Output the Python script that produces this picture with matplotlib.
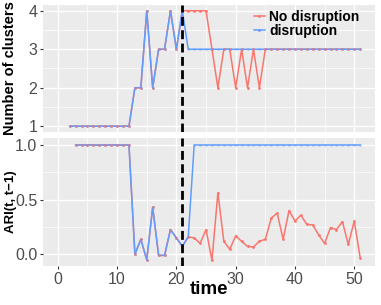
"""
Number of clusters and ARI over time, with and without disruption.
"""

import matplotlib.pyplot as plt

plt.rcParams['font.family'] = ['Liberation Sans', 'DejaVu Sans']

# number of clusters
time_nc = list(range(2, 52))
nc_no_disruption = [1] * 11 + [2, 2, 4, 2, 3, 3, 4, 3, 4,
                               4, 4, 4, 4, 3, 2, 3, 3, 2, 3, 2, 3, 2] + [3] * 17
nc_disruption = [1] * 11 + [2, 2, 4, 2, 3, 3, 4, 3, 4] + [3] * 30

# ARI(t, t-1)
time_ari = list(range(3, 52))
ari_shared = [1.0] * 10 + [0.0, 0.137, -0.05, 0.43, -0.01, -0.01, 0.226, 0.15, 0.073, 0.16]
ari_no_disruption = ari_shared + [0.15, 0.10, 0.226, -0.055, 0.564, 0.119, 0.046, 0.168,
                                  0.119, 0.073, 0.067, 0.119, 0.137, 0.33, 0.378, 0.137,
                                  0.40, 0.305, 0.357, 0.274, 0.268, 0.177, 0.10, 0.244,
                                  0.226, 0.299, 0.09, 0.305, -0.03]
ari_disruption = ari_shared + [1.0] * 29

disruption_time = 21
red = '#F8766D'
blue = '#619CFF'

fig = plt.figure(figsize=(3.81, 3.05), dpi=100)
ax_top = fig.add_axes([43/381, 1 - 132/305, 332/381, 127/305])
ax_bot = fig.add_axes([43/381, 1 - 266/305, 332/381, 128/305])

for ax in (ax_top, ax_bot):
    ax.set_facecolor('#EBEBEB')
    for s in ax.spines.values():
        s.set_visible(False)
    ax.set_xlim(-2.5, 53.5)
    ax.set_xticks([0, 10, 20, 30, 40, 50])
    ax.set_xticks([5, 15, 25, 35, 45], minor=True)
    ax.grid(True, which='major', color='white', lw=1.0)
    ax.grid(True, which='minor', color='white', lw=0.5)
    ax.set_axisbelow(True)
    ax.tick_params(which='major', color='#333333', length=2.5, width=0.8,
                   labelsize=11.5, labelcolor='#4D4D4D', pad=1.5)
    ax.tick_params(which='minor', length=0)
    ax.axvline(disruption_time, color='black', lw=2, ls=(0, (3.2, 1.6)), zorder=5)

ax_top.tick_params(axis='x', which='both', length=0, labelbottom=False)

ax_top.plot(time_nc, nc_no_disruption, color=red, lw=1.1, zorder=2)
ax_top.plot(time_nc, nc_disruption, color=blue, lw=1.1, zorder=3)
ax_top.plot(time_nc, nc_no_disruption, 'o', color=red, ms=2, mew=0, zorder=4)
ax_top.plot(time_nc, nc_disruption, 'o', color=blue, ms=2, mew=0, alpha=0.4, zorder=4)
ax_top.set_ylim(0.85, 4.15)
ax_top.set_yticks([1, 2, 3, 4])
ax_top.set_yticks([1.5, 2.5, 3.5], minor=True)
ax_top.set_ylabel('Number of clusters', fontsize=10.5, fontweight='bold')
ax_top.yaxis.set_label_coords(-0.078, 0.5)

ax_bot.plot(time_ari, ari_no_disruption, color=red, lw=1.1, zorder=2)
ax_bot.plot(time_ari, ari_disruption, color=blue, lw=1.1, zorder=3)
ax_bot.plot(time_ari, ari_no_disruption, 'o', color=red, ms=2, mew=0, zorder=4)
ax_bot.plot(time_ari, ari_disruption, 'o', color=blue, ms=2, mew=0, alpha=0.4, zorder=4)
ax_bot.set_ylim(-0.107, 1.064)
ax_bot.set_yticks([0.0, 0.5, 1.0])
ax_bot.set_yticklabels(['0.0', '0.5', '1.0'])
ax_bot.set_yticks([0.25, 0.75], minor=True)
ax_bot.set_ylabel('ARI(t, t\u22121)', fontsize=9.5, fontweight='bold')
ax_bot.yaxis.set_label_coords(-0.078, 0.5)
ax_bot.set_xlabel('time', fontsize=13.5, fontweight='bold')
ax_bot.xaxis.set_label_coords(0.5, -0.115)

# legend
h1, = ax_top.plot([], [], color=red, lw=1.1, marker='o', ms=2, mew=0)
h2, = ax_top.plot([], [], color=blue, lw=1.1, marker='o', ms=2, mew=0)
leg = ax_top.legend([h1, h2], ['No disruption', 'disruption'], loc='upper right',
                    bbox_to_anchor=(0.978, 1.03), frameon=False, handlelength=0.8,
                    handletextpad=0.3, labelspacing=0.0, borderaxespad=0.2,
                    prop={'weight': 'bold', 'size': 10})

fig.savefig('out.png', dpi=100)
